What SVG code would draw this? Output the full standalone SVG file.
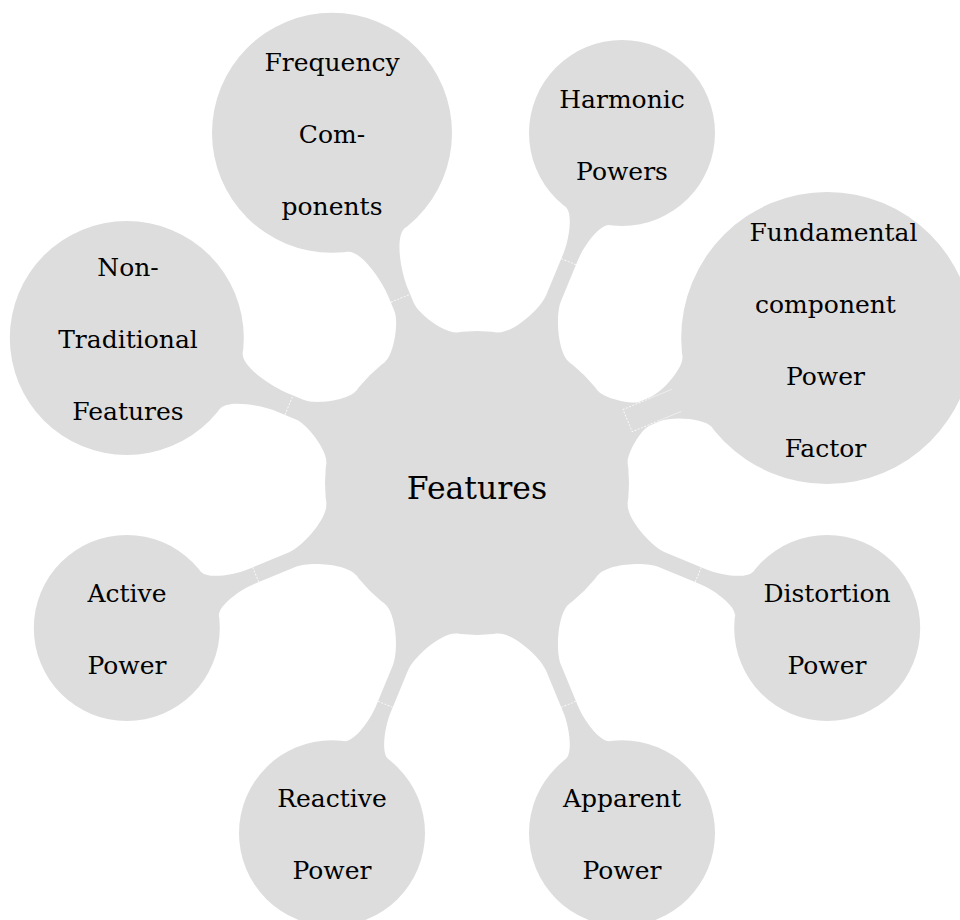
<svg xmlns="http://www.w3.org/2000/svg" width="960" height="920" viewBox="0 0 960 920">
<style>
.concept{fill:#dddddd}
.bar{fill:#dddddd}
.seam{fill:none;stroke:#ffffff;stroke-width:0.9;stroke-dasharray:2 1.5;opacity:0.85}
.sliver{fill:none;stroke:#ffffff;stroke-width:0.7;opacity:0.6}
.lbl{font-family:'DejaVu Serif',serif;font-size:25px;fill:#000;text-anchor:middle}
.root{font-family:'DejaVu Serif',serif;font-size:31.5px;fill:#000;text-anchor:middle}
</style>
<rect width="960" height="920" fill="#ffffff"/>
<g id="connectors">
  <g transform="translate(477 483) rotate(-22.5)">
    <path class="bar" d="M146.82,39.34 C149.18,30.55 172.1,13 181.2,13 L192.5,13 C207.3,13 235.42,28.22 237.98,37.78 L237.98,-37.78 C235.42,-28.22 207.3,-13 192.5,-13 L181.2,-13 C172.1,-13 149.18,-30.55 146.82,-39.34 Z"/>
    <path class="seam" d="M192,12 L163,12 L163,-12 L192,-12"/>
    <path class="sliver" d="M192,12 L216,12 M192,-12 L216,-12"/>
  </g>
  <g transform="translate(477 483) rotate(-67.5)">
    <path class="bar" d="M146.82,39.34 C150.7,24.85 185,8 200,8 L245.1,8 C260.1,8 286.58,14.41 289.17,24.07 L289.17,-24.07 C286.58,-14.41 260.1,-8 245.1,-8 L200,-8 C185,-8 150.7,-24.85 146.82,-39.34 Z"/>
    <path class="seam" d="M239.5,-8 L239.5,8"/>
  </g>
  <g transform="translate(477 483) rotate(-112.5)">
    <path class="bar" d="M146.82,39.34 C149.9,27.75 178.5,10.5 190.5,10.5 L206.2,10.5 C225.5,10.5 259.75,18.6 263.09,31.06 L263.09,-31.06 C259.75,-18.6 225.5,-10.5 206.2,-10.5 L190.5,-10.5 C178.5,-10.5 149.9,-27.75 146.82,-39.34 Z"/>
    <path class="seam" d="M200,-10.5 L200,10.5"/>
  </g>
  <g transform="translate(477 483) rotate(-157.5)">
    <path class="bar" d="M146.82,39.34 C150.03,27.36 179.2,10.5 191.6,10.5 L210.5,10.5 C229.3,10.5 262.73,18.11 265.99,30.28 L265.99,-30.28 C262.73,-18.11 229.3,-10.5 210.5,-10.5 L191.6,-10.5 C179.2,-10.5 150.03,-27.36 146.82,-39.34 Z"/>
    <path class="seam" d="M203.5,-10.5 L203.5,10.5"/>
  </g>
  <g transform="translate(477 483) rotate(-202.5)">
    <path class="bar" d="M146.82,39.34 C150.7,24.85 185,8 200,8 L245.1,8 C260.1,8 286.58,14.41 289.17,24.07 L289.17,-24.07 C286.58,-14.41 260.1,-8 245.1,-8 L200,-8 C185,-8 150.7,-24.85 146.82,-39.34 Z"/>
    <path class="seam" d="M239.5,-8 L239.5,8"/>
  </g>
  <g transform="translate(477 483) rotate(-247.5)">
    <path class="bar" d="M146.82,39.34 C150.7,24.85 185,8 200,8 L245.1,8 C260.1,8 286.58,14.41 289.17,24.07 L289.17,-24.07 C286.58,-14.41 260.1,-8 245.1,-8 L200,-8 C185,-8 150.7,-24.85 146.82,-39.34 Z"/>
    <path class="seam" d="M239.5,-8 L239.5,8"/>
  </g>
  <g transform="translate(477 483) rotate(-292.5)">
    <path class="bar" d="M146.82,39.34 C150.7,24.85 185,8 200,8 L245.1,8 C260.1,8 286.58,14.41 289.17,24.07 L289.17,-24.07 C286.58,-14.41 260.1,-8 245.1,-8 L200,-8 C185,-8 150.7,-24.85 146.82,-39.34 Z"/>
    <path class="seam" d="M239.5,-8 L239.5,8"/>
  </g>
  <g transform="translate(477 483) rotate(-337.5)">
    <path class="bar" d="M146.82,39.34 C150.7,24.85 185,8 200,8 L245.1,8 C260.1,8 286.58,14.41 289.17,24.07 L289.17,-24.07 C286.58,-14.41 260.1,-8 245.1,-8 L200,-8 C185,-8 150.7,-24.85 146.82,-39.34 Z"/>
    <path class="seam" d="M239.5,-8 L239.5,8"/>
  </g>
</g>
<g id="features">
  <circle class="concept" cx="477" cy="483" r="152"/>
  <text class="root" x="477" y="499">Features</text>
</g>
<g id="frequency-components">
  <circle class="concept" cx="332" cy="132.8" r="120"/>
  <text class="lbl" x="332" y="70.8">Frequency</text>
  <text class="lbl" x="332" y="142.8">Com-</text>
  <text class="lbl" x="332" y="214.8">ponents</text>
</g>
<g id="harmonic-powers">
  <circle class="concept" cx="622" cy="133" r="93"/>
  <text class="lbl" x="622" y="108">Harmonic</text>
  <text class="lbl" x="622" y="180">Powers</text>
</g>
<g id="fundamental-pf">
  <circle class="concept" cx="827.2" cy="338" r="146"/>
  <text class="lbl" x="833.5" y="240.5">Fundamental</text>
  <text class="lbl" x="825.5" y="312.5">component</text>
  <text class="lbl" x="825.5" y="384.5">Power</text>
  <text class="lbl" x="825.5" y="456.5">Factor</text>
</g>
<g id="non-traditional">
  <circle class="concept" cx="126.8" cy="338" r="117"/>
  <text class="lbl" x="128" y="276">Non-</text>
  <text class="lbl" x="128" y="348">Traditional</text>
  <text class="lbl" x="128" y="420">Features</text>
</g>
<g id="active-power">
  <circle class="concept" cx="126.8" cy="628" r="93"/>
  <text class="lbl" x="127" y="602">Active</text>
  <text class="lbl" x="127" y="674">Power</text>
</g>
<g id="reactive-power">
  <circle class="concept" cx="332" cy="833.2" r="93"/>
  <text class="lbl" x="332" y="807">Reactive</text>
  <text class="lbl" x="332" y="879">Power</text>
</g>
<g id="apparent-power">
  <circle class="concept" cx="622" cy="833.2" r="93"/>
  <text class="lbl" x="622" y="807">Apparent</text>
  <text class="lbl" x="622" y="879">Power</text>
</g>
<g id="distortion-power">
  <circle class="concept" cx="827.2" cy="628" r="93"/>
  <text class="lbl" x="827" y="602">Distortion</text>
  <text class="lbl" x="827" y="674">Power</text>
</g>
</svg>
